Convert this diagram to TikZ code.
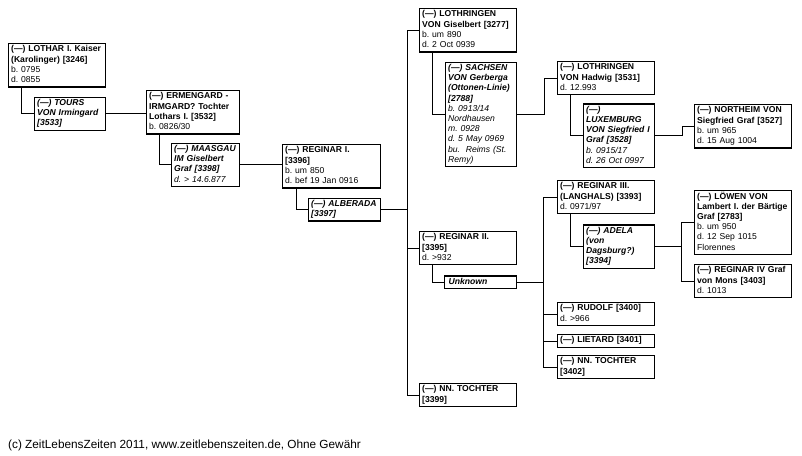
\documentclass[tikz,border=0pt]{standalone}
\usepackage{fontspec}
\setmainfont{Liberation Sans}
\usetikzlibrary{positioning}
\hyphenpenalty=10000
\exhyphenpenalty=10000
\frenchspacing

\begin{document}
\begin{tikzpicture}[
% first : the style of the boxes
    x=1pt, y=-1pt,
    person/.style={
        rectangle,
        draw,
        line width=1.3pt,
        anchor=north west,
        align=left,
        text width=92pt,
        inner xsep=2.5pt,
        inner ysep=1.2pt,
        font=\fontsize{8.6}{10.2}\selectfont,
        execute at begin node=\strut,
        execute at end node=\strut
    },
    spouse/.style={
        person,
        text width=66pt,
        font=\fontsize{8.6}{10.2}\selectfont\itshape
    },
    link/.style={line width=0.9pt}
]
\useasboundingbox (0,0) rectangle (802,455);

% generation 1
\node[person] (lothar) at (8,43) {\textbf{(---) LOTHAR I. Kaiser\\(Karolinger) [3246]}\\b. 0795\\d. 0855};
\node[spouse, below right=9pt and 26pt of lothar.south west] (tours) {\textbf{(---) TOURS\\VON Irmingard\\{}[3533]}};

% generation 2
\node[person, text width=88pt] (ermengard) at (146,90) {\textbf{(---) ERMENGARD -\\IRMGARD? Tochter\\Lothars I. [3532]}\\b. 0826/30};
\node[spouse, text width=63pt, below right=8pt and 25pt of ermengard.south west] (maasgau) {\textbf{(---) MAASGAU\\IM Giselbert\\Graf [3398]}\\d. > 14.6.877};

% generation 3
\node[person, text width=93pt] (reginar1) at (282,144) {\textbf{(---) REGINAR I.\\{}[3396]}\\b. um 850\\d. bef 19 Jan 0916};
\node[spouse, text width=67pt, below right=9pt and 26pt of reginar1.south west] (alberada) {\textbf{(---) ALBERADA\\{}[3397]}};

% generation 4
\node[person] (giselbert) at (419,8) {\textbf{(---) LOTHRINGEN\\VON Giselbert [3277]}\\b. um 890\\d. 2 Oct 0939};
\node[spouse, below right=9pt and 26pt of giselbert.south west] (sachsen) {\textbf{(---) SACHSEN\\VON Gerberga\\(Ottonen-Linie)\\{}[2788]}\\b. 0913/14\\Nordhausen\\m. 0928\\d. 5 May 0969\\bu.~ Reims (St.\\Remy)};
\node[person] (reginar2) at (419,231) {\textbf{(---) REGINAR II.\\{}[3395]}\\d. >932};
\node[spouse, text width=64pt, inner xsep=4pt, below right=10pt and 25pt of reginar2.south west] (unknown) {\textbf{Unknown}};
\node[person] (tochter1) at (419,383) {\textbf{(---) NN. TOCHTER\\{}[3399]}};

% generation 5
\node[person] (hadwig) at (557,61) {\textbf{(---) LOTHRINGEN\\VON Hadwig [3531]}\\d. 12.993};
\node[spouse, below right=8pt and 26pt of hadwig.south west] (luxemburg) {\textbf{(---)\\LUXEMBURG\\VON Siegfried I\\Graf [3528]}\\b. 0915/17\\d. 26 Oct 0997};
\node[person] (reginar3) at (557,180) {\textbf{(---) REGINAR III.\\(LANGHALS) [3393]}\\d. 0971/97};
\node[spouse, below right=10pt and 26pt of reginar3.south west] (adela) {\textbf{(---) ADELA\\(von\\Dagsburg?)\\{}[3394]}};
\node[person] (rudolf) at (557,302) {\textbf{(---) RUDOLF [3400]}\\d. >966};
\node[person] (lietard) at (557,334) {\textbf{(---) LIETARD [3401]}};
\node[person] (tochter2) at (557,355) {\textbf{(---) NN. TOCHTER\\{}[3402]}};

% generation 6
\node[person] (northeim) at (694,104) {\textbf{(---) NORTHEIM VON\\Siegfried Graf [3527]}\\b. um 965\\d. 15 Aug 1004};
\node[person] (loewen) at (694,190) {\textbf{(---) LÖWEN VON\\Lambert I. der Bärtige\\Graf [2783]}\\b. um 950\\d. 12 Sep 1015\\Florennes};
\node[person] (reginar4) at (694,264) {\textbf{(---) REGINAR IV Graf\\von Mons [3403]}\\d. 1013};

% links
\draw[link] (lothar.south west) ++(13,0) |- (tours.west);
\draw[link] (tours.east) -- (ermengard.west |- tours.east);
\draw[link] (ermengard.south west) ++(13,0) |- (maasgau.west);
\draw[link] (maasgau.east) -- (reginar1.west |- maasgau.east);
\draw[link] (reginar1.south west) ++(14,0) |- (alberada.west);

\draw[link] (giselbert.west) -- ++(-12,0) coordinate (bus1) |- (tochter1.west);
\draw[link] (alberada.east) -- (alberada.east -| bus1);
\draw[link] (reginar2.west) -- (reginar2.west -| bus1);

\draw[link] (giselbert.south west) ++(13,0) |- (sachsen.west);
\draw[link] (sachsen.east) -- ++(27,0) |- (hadwig.west);
\draw[link] (hadwig.south west) ++(13,0) |- (luxemburg.west);
\draw[link] (luxemburg.east) -- ++(27,0) |- (northeim.west);

\draw[link] (reginar2.south west) ++(13,0) |- (unknown.west);
\draw[link] (reginar3.west) -- ++(-14,0) coordinate (bus2) |- (tochter2.west);
\draw[link] (unknown.east) -- (unknown.east -| bus2);
\draw[link] (rudolf.west) -- (rudolf.west -| bus2);
\draw[link] (lietard.west) -- (lietard.west -| bus2);

\draw[link] (reginar3.south west) ++(13,0) |- (adela.west);
\draw[link] (loewen.west) -- ++(-13,0) coordinate (bus3) |- (reginar4.west);
\draw[link] (adela.east) -- (adela.east -| bus3);

% footer
\node[anchor=west, inner sep=0pt, font=\fontsize{11.8}{14}\selectfont] (footer) at (8,445) {(c) ZeitLebensZeiten 2011, www.zeitlebenszeiten.de, Ohne Gewähr};

\end{tikzpicture}
\end{document}
